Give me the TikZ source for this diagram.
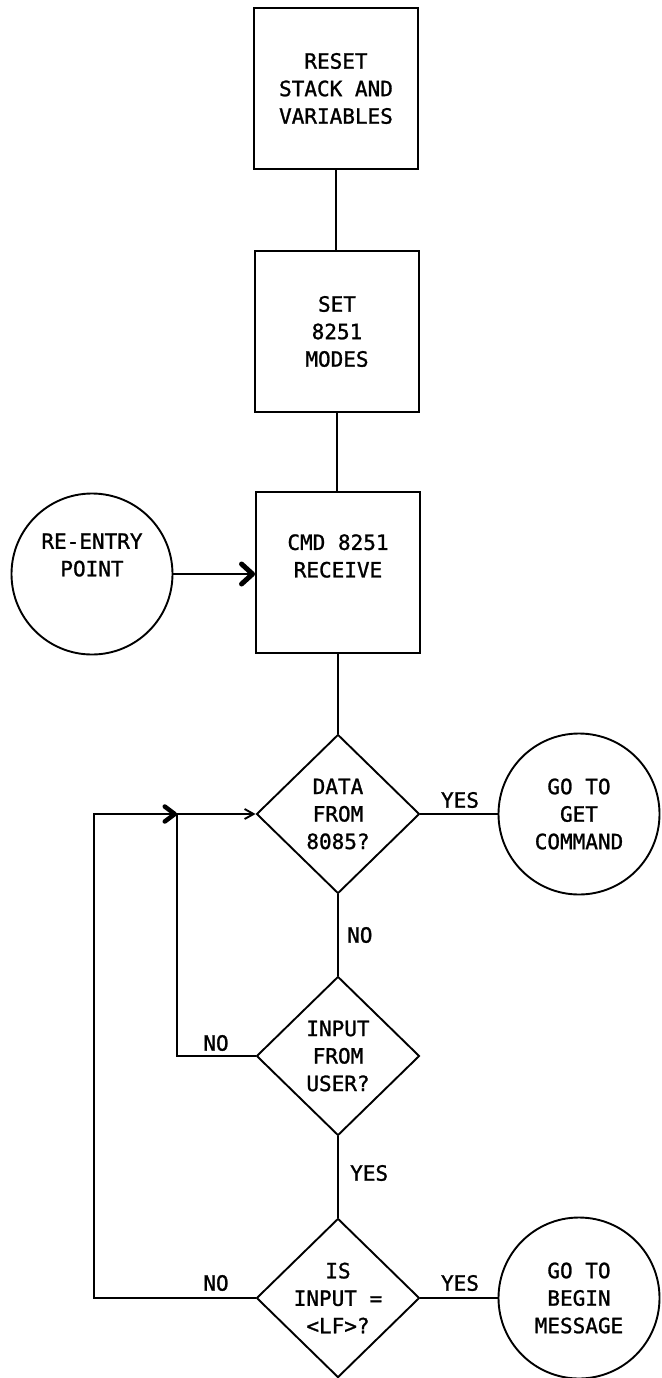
\documentclass[tikz,border=0pt]{standalone}
\usepackage{fontspec}
\newfontfamily\plotfont[FakeBold=1.2]{DejaVu Sans Mono}
\usetikzlibrary{shapes.geometric, arrows.meta}
\begin{document}
\begin{tikzpicture}[x=1pt, y=-1pt,
  every node/.style={font=\plotfont\fontsize{21}{27.5}\selectfont, align=center, inner sep=0pt},
  procbox/.style={draw, line width=1.9pt, minimum width=164pt, minimum height=161pt},
  decision/.style={draw, diamond, aspect=1, line width=1.9pt, minimum width=163pt, minimum height=159pt},
  terminal/.style={draw, circle, line width=1.9pt, minimum size=161pt},
  flow/.style={line width=1.9pt},
  heavytip/.style={-{Straight Barb[length=11pt, width=20pt, line width=5pt 0 1, round]}},
  jointip/.style={-{Straight Barb[length=10pt, width=15pt, line width=4.5pt 0 1, round]}},
  lighttip/.style={-{Straight Barb[length=9pt, width=10pt, line width=1.9pt 0 1]}}
]
% page
\fill[white] (0,0) rectangle (661,1378);
\useasboundingbox (0,0) rectangle (661,1378);

% initialisation blocks
\node[procbox] (reset) at (336,88.5) {RESET\\STACK AND\\VARIABLES};
\node[procbox] (modes) at (337,331.5) {SET\\8251\\MODES};
\node[procbox] (receive) at (338,572.5) {};
\node (receivetext) at (338,556) {CMD 8251\\RECEIVE};

% re-entry connector
\node[terminal] (reentry) at (92,574) {};
\node (reentrytext) at (92,555) {RE-ENTRY\\POINT};

% polling decisions
\node[decision] (fromcpu) at (338,814) {DATA\\FROM\\8085?};
\node[decision] (fromuser) at (338,1056) {INPUT\\FROM\\USER?};
\node[decision] (islf) at (338,1298) {IS\\INPUT =\\<LF>?};

% exits
\node[terminal] (getcmd) at (579,814) {GO TO\\GET\\COMMAND};
\node[terminal] (beginmsg) at (579,1298) {GO TO\\BEGIN\\MESSAGE};

% loop-back corners
\coordinate (outercorner) at (94,1298);
\coordinate (merge) at (177,814);

% main chain
\draw[flow] (reset.south) -- (reset.south |- modes.north);
\draw[flow] (modes.south) -- (modes.south |- receive.north);
\draw[flow] (receive.south) -- (receive.south |- fromcpu.north);
\draw[flow, heavytip] (reentry.east) -- (reentry.east -| receive.west);

\draw[flow] (fromcpu.east) -- (getcmd.west);
\draw[flow] (fromcpu.south) -- (fromuser.north);
\draw[flow] (fromuser.south) -- (islf.north);
\draw[flow] (islf.east) -- (beginmsg.west);

% return paths
\draw[flow, jointip] (islf.west) -- (outercorner) |- (merge);
\draw[flow, lighttip] (fromuser.west) -| (merge) -- (fromcpu.west);

% branch labels
\node (yescpu) at (460,800) {YES};
\node[anchor=west] (nocpu) at (347,935) {NO};
\node (nouser) at (216,1043) {NO};
\node[anchor=west] (yesuser) at (350,1173) {YES};
\node (nolf) at (216,1283) {NO};
\node (yeslf) at (460,1283) {YES};
\end{tikzpicture}
\end{document}
